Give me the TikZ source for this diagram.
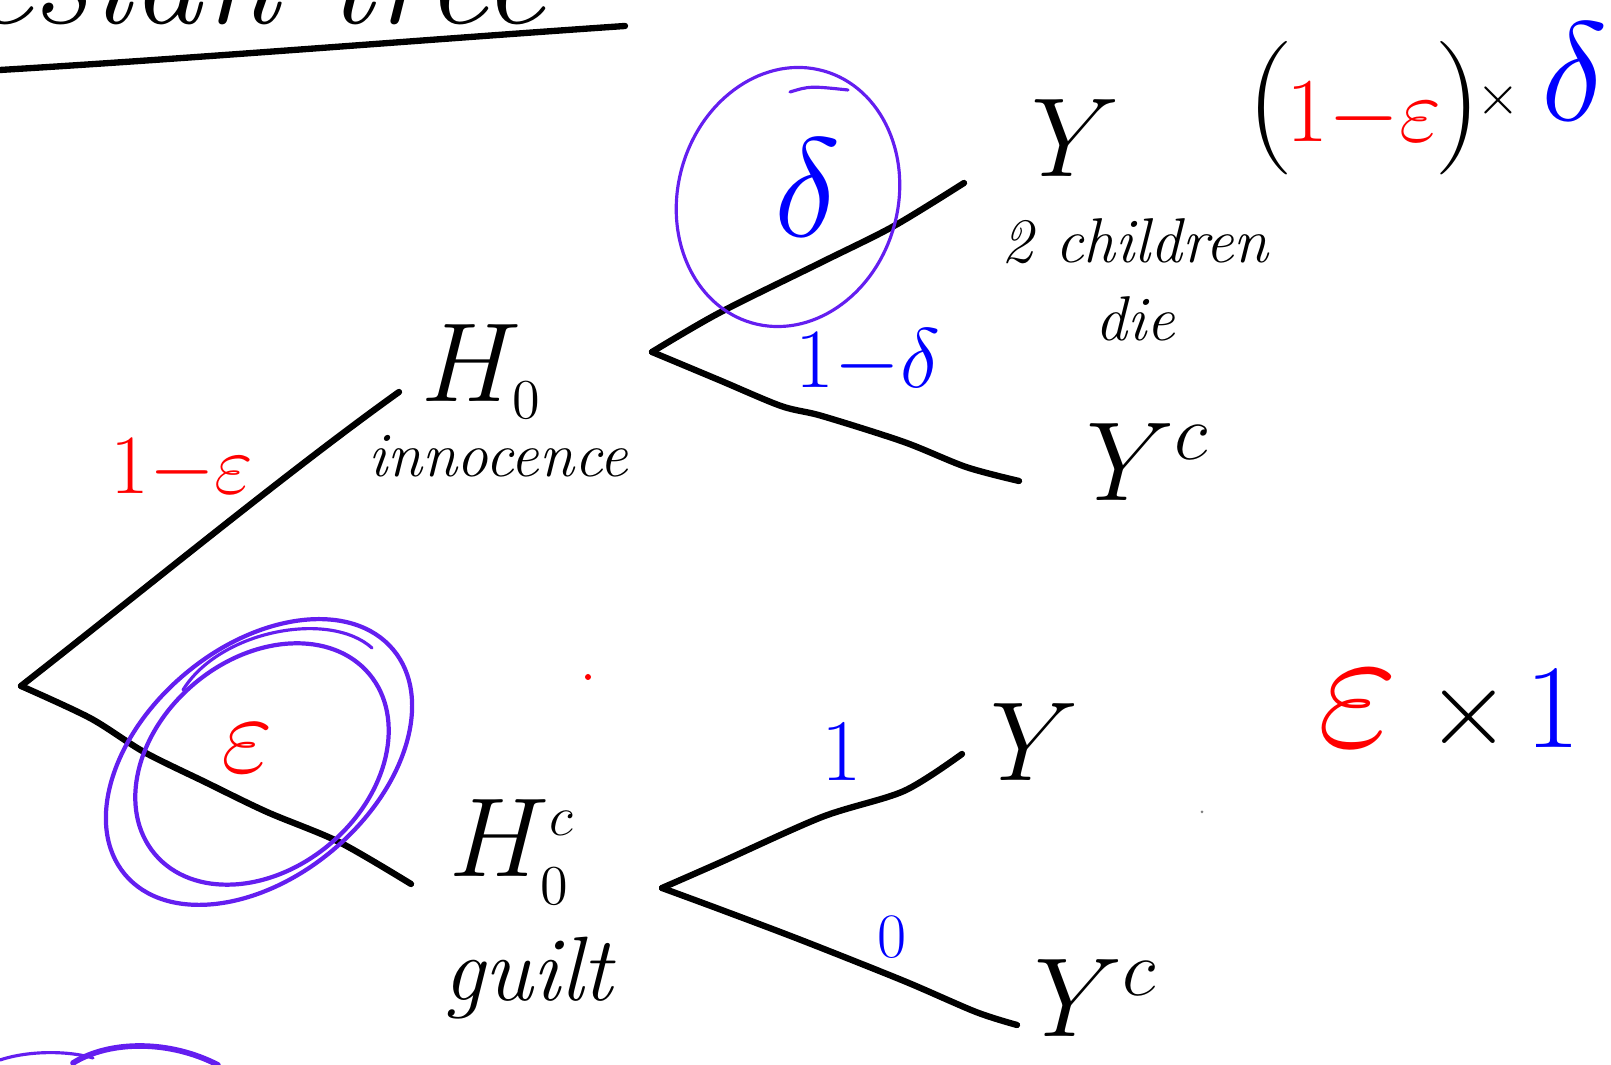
\RequirePackage{fix-cm}
\documentclass[tikz,border=0pt]{standalone}
\definecolor{ink}{RGB}{100,30,240}
\definecolor{pen}{RGB}{0,0,255}
\begin{document}
\begin{tikzpicture}[x=0.01cm,y=-0.01cm,line cap=round,line join=round,
  every node/.style={inner sep=0pt},
  branch/.style={line width=1.8pt},
  loop/.style={draw=ink,line width=0.9pt},
  big/.style={font=\fontsize{32}{38}\selectfont},
  word/.style={font=\fontsize{18}{22}\selectfont\itshape}]
\useasboundingbox (0,0) rectangle (1611,1065);
\clip (0,0) rectangle (1611,1065);
% heading, cut off by the top of the page
\node[anchor=base east,font=\fontsize{40}{48}\selectfont\itshape] (title) at (545,24) {Bayesian tree};
\draw[branch] (0,70) .. controls (200,58) and (420,40) .. (625,26);
% tree points
\coordinate (root) at (21,686);
\coordinate (up) at (399,392);
\coordinate (down) at (411,884);
\coordinate (forkA) at (652,352);
\coordinate (forkB) at (662,888);
\coordinate (endA) at (964,183);
\coordinate (endB) at (1019,481);
\coordinate (endC) at (962,754);
\coordinate (endD) at (1017,1025);
\draw[branch] (root) .. controls (150,585) and (290,470) .. (up);
\draw[branch] plot[smooth] coordinates {(root) (90,718) (144,752) (205,782) (267,812) (339,842) (down)};
\draw[branch] plot[smooth] coordinates {(forkA) (719,313) (822,262) (894,226) (endA)};
\draw[branch] plot[smooth] coordinates {(forkA) (719,380) (781,406) (822,416) (904,442) (966,467) (endB)};
\draw[branch] plot[smooth] coordinates {(forkB) (719,863) (822,817) (904,791) (endC)};
\draw[branch] plot[smooth] coordinates {(forkB) (719,909) (801,940) (904,981) (976,1012) (endD)};
% hypotheses
\node[big] (h0) at (482,372) {$H_{\scriptscriptstyle 0}$};
\node[word] (inno) at (498,456) {innocence};
\node[big] (h0c) at (512,852) {$H_{\scriptscriptstyle 0}^{\scriptscriptstyle c}$};
\node[font=\fontsize{26}{30}\selectfont\itshape] (guilt) at (528,978) {guilt};
% outcomes
\node[big] (yA) at (1076,138) {$Y$};
\node[word,align=center] (kids) at (1135,280) {2 children\\die};
\node[big] (ycA) at (1148,462) {$Y^c$};
\node[big] (yB) at (1035,742) {$Y$};
\node[big] (ycB) at (1096,998) {$Y^c$};
% probabilities
\node[red,font=\fontsize{24}{28}\selectfont] (p1) at (182,470) {$1{-}\varepsilon$};
\node[red,font=\fontsize{32}{38}\selectfont] (p2) at (247,748) {$\varepsilon$};
\node[pen,font=\fontsize{40}{48}\selectfont] (q1) at (808,188) {$\delta$};
\node[pen,font=\fontsize{24}{28}\selectfont] (q2) at (868,362) {$1{-}\delta$};
\node[pen,font=\fontsize{25}{30}\selectfont] (q3) at (842,752) {$1$};
\node[pen,font=\fontsize{18}{22}\selectfont] (q4) at (892,937) {$0$};
% rings round the chosen path
\draw[loop,rotate around={-16:(788,197)}] (788,197) ellipse[x radius=110,y radius=131];
\draw[loop] (790,92) .. controls (810,86) .. (848,90);
\draw[loop,line width=1.2pt,rotate around={40:(259,762)}] (259,762) ellipse[x radius=175,y radius=115];
\draw[loop,line width=1.2pt,rotate around={40:(262,764)}] (262,764) ellipse[x radius=140,y radius=105];
\draw[loop] (183,690) .. controls (220,630) and (330,610) .. (372,648);
% products
\node[font=\fontsize{38}{46}\selectfont] (pa) at (1364,108)
  {$($\kern-2pt{\color{red}\fontsize{26}{30}\selectfont$1{-}\varepsilon$}\kern-2pt$)$};
\node[font=\fontsize{16}{20}\selectfont] (xa) at (1498,100) {$\times$};
\node[pen,font=\fontsize{40}{48}\selectfont] (da) at (1575,72) {$\delta$};
\node[red,font=\fontsize{50}{58}\selectfont] (eb) at (1358,709) {$\varepsilon$};
\node[font=\fontsize{31}{36}\selectfont] (xb) at (1469,717) {$\times$};
\node[pen,font=\fontsize{34}{40}\selectfont] (ob) at (1553,709) {$1$};
% stray marks
\fill[red] (588,677) circle (3);
\fill[gray] (1202,812) circle (1.5);
\draw[ink,line width=1.6pt] (73,1063) .. controls (110,1040) and (170,1040) .. (218,1065);
\draw[loop] (0,1060) .. controls (30,1050) and (70,1051) .. (93,1058);
\end{tikzpicture}
\end{document}
